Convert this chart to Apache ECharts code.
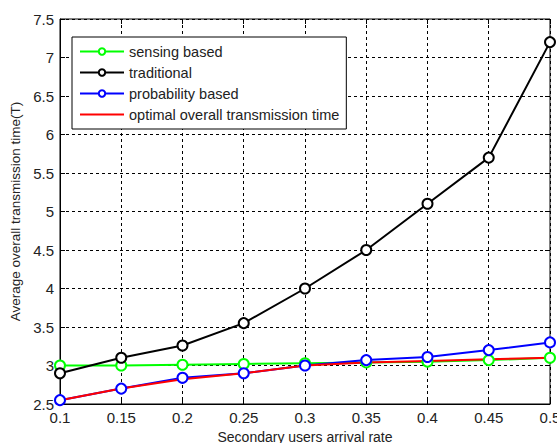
<!DOCTYPE html>
<html>
<head>
<meta charset="utf-8">
<script src="https://cdn.jsdelivr.net/npm/echarts@6/dist/echarts.min.js"></script>
<style>
  html, body { margin: 0; padding: 0; background: #fff; }
  #main { width: 557px; height: 443px; }
</style>
</head>
<body>
<div id="main"></div>
<script>
const rates = [0.1, 0.15, 0.2, 0.25, 0.3, 0.35, 0.4, 0.45, 0.5];
const sensing = [3.0, 3.0, 3.01, 3.02, 3.03, 3.04, 3.05, 3.07, 3.1];
const traditional = [2.9, 3.1, 3.26, 3.55, 4.0, 4.5, 5.1, 5.7, 7.2];
const probability = [2.55, 2.7, 2.84, 2.9, 3.0, 3.07, 3.11, 3.2, 3.3];
const optimal = [2.55, 2.7, 2.82, 2.9, 3.0, 3.04, 3.06, 3.08, 3.1];

const font = 'Liberation Sans';
const dash = [3, 3];

function pairs(vals) {
  return rates.map((x, i) => [x, vals[i]]);
}

function lineSeries(name, color, vals, marker) {
  return {
    name: name,
    type: 'line',
    data: pairs(vals),
    symbol: marker ? 'emptyCircle' : 'none',
    symbolSize: 10,
    showAllSymbol: true,
    lineStyle: { color: color, width: 2 },
    itemStyle: { color: color, borderColor: color, borderWidth: 1.6 },
    emphasis: { disabled: true },
    animation: false
  };
}

let myChart = echarts.init(document.getElementById('main'), null, { renderer: 'svg' });
let option = {
  backgroundColor: '#fff',
  grid: {
    left: 60, right: 7, top: 19, bottom: 39,
    containLabel: false, outerBoundsMode: 'none',
    show: true, borderColor: '#000', borderWidth: 1
  },
  legend: {
    orient: 'vertical',
    left: 72,
    top: 37,
    padding: [7, 7, 7, 7],
    itemWidth: 44,
    itemHeight: 8,
    itemGap: 6,
    borderColor: '#000',
    borderWidth: 1,
    backgroundColor: '#fff',
    itemStyle: { borderWidth: 1.5 },
    data: [
      'sensing based',
      'traditional',
      'probability based',
      { name: 'optimal overall transmission time', itemStyle: { opacity: 0 } }
    ],
    textStyle: { fontFamily: font, fontSize: 14.5, color: '#222', padding: [0, 0, 0, 0] },
    selectedMode: false
  },
  xAxis: [{
    type: 'value',
    min: 0.1,
    max: 0.5,
    interval: 0.05,
    name: 'Secondary users arrival rate',
    nameLocation: 'middle',
    nameGap: 28,
    nameTextStyle: { fontFamily: font, fontSize: 14, color: '#222', verticalAlign: 'middle', lineHeight: 14 },
    axisLine: { show: true, lineStyle: { color: '#000' } },
    axisTick: { inside: true, length: 5, lineStyle: { color: '#000' } },
    axisLabel: { fontFamily: font, fontSize: 15, color: '#222', margin: 6, formatter: v => String(+v.toFixed(2)) },
    splitLine: { show: true, lineStyle: { color: '#000', type: dash, width: 1 } }
  }, {
    type: 'value',
    position: 'top',
    min: 0.1,
    max: 0.5,
    interval: 0.05,
    axisLine: { show: false },
    axisTick: { inside: true, length: 5, lineStyle: { color: '#000' } },
    axisLabel: { show: false },
    splitLine: { show: false }
  }],
  yAxis: [{
    type: 'value',
    min: 2.5,
    max: 7.5,
    interval: 0.5,
    name: 'Average overall transmission time(T)',
    nameLocation: 'middle',
    nameGap: 38,
    nameTextStyle: { fontFamily: font, fontSize: 13.5, color: '#222' },
    axisLine: { show: true, lineStyle: { color: '#000' } },
    axisTick: { inside: true, length: 5, lineStyle: { color: '#000' } },
    axisLabel: { fontFamily: font, fontSize: 15, color: '#222', margin: 6 },
    splitLine: { show: true, lineStyle: { color: '#000', type: dash, width: 1 } }
  }, {
    type: 'value',
    position: 'right',
    min: 2.5,
    max: 7.5,
    interval: 0.5,
    axisLine: { show: false },
    axisTick: { inside: true, length: 5, lineStyle: { color: '#000' } },
    axisLabel: { show: false },
    splitLine: { show: false }
  }],
  series: [
    lineSeries('sensing based', '#00ff00', sensing, true),
    lineSeries('traditional', '#000000', traditional, true),
    lineSeries('probability based', '#0000ff', probability, true),
    lineSeries('optimal overall transmission time', '#ff0000', optimal, false)
  ]
};
myChart.setOption(option);
</script>
</body>
</html>
